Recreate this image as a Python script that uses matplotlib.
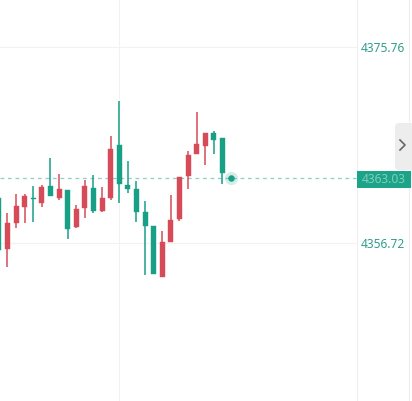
import numpy as np
import matplotlib
matplotlib.use('Agg')
import matplotlib.pyplot as plt
from matplotlib.patches import Rectangle, FancyBboxPatch

# OHLC
opens  = [4361.09, 4356.14, 4358.66, 4360.22, 4361.14, 4360.61, 4362.26, 4361.09, 4361.87,
          4358.27, 4360.12, 4362.06, 4359.83, 4361.09, 4366.24, 4362.35, 4361.97, 4359.73,
          4358.37, 4353.42, 4356.82, 4359.05, 4363.23, 4365.37, 4366.14, 4367.41, 4366.92]
highs  = [4361.29, 4359.63, 4361.48, 4361.48, 4362.26, 4362.35, 4364.98, 4363.42, 4361.87,
          4360.41, 4362.84, 4363.33, 4362.16, 4367.11, 4370.51, 4364.69, 4362.74, 4360.80,
          4358.37, 4357.89, 4361.38, 4363.13, 4365.66, 4369.45, 4367.41, 4367.60, 4366.92]
lows   = [4355.94, 4354.39, 4358.18, 4358.66, 4358.76, 4360.22, 4361.29, 4360.90, 4357.11,
          4358.18, 4359.15, 4359.63, 4359.73, 4360.90, 4360.61, 4361.58, 4358.76, 4353.61,
          4353.71, 4353.42, 4356.82, 4358.86, 4361.97, 4365.37, 4364.30, 4365.37, 4362.45]
closes = [4356.04, 4358.66, 4360.31, 4361.29, 4361.04, 4362.16, 4361.29, 4361.97, 4358.08,
          4360.02, 4362.26, 4359.83, 4361.09, 4365.85, 4362.45, 4361.97, 4359.73, 4358.37,
          4353.71, 4356.82, 4358.95, 4363.13, 4365.27, 4366.34, 4367.41, 4366.73, 4363.52]
last_price = 4363.03
tick_vals = [4356.72, 4375.76]
tick_labels = ['4356.72', '4375.76']

up_col = '#d64b57'
down_col = '#17a086'
lbl_col = '#2f9e8c'

W, H = 412, 401
fig = plt.figure(figsize=(W / 100, H / 100), dpi=100)
fig.patch.set_facecolor('white')
ax = fig.add_axes([0, 0, 357 / W, 1])

n = len(opens)
idx = np.arange(n)
for i in idx:
    o, h, l, c = opens[i], highs[i], lows[i], closes[i]
    col = up_col if c > o else down_col
    ax.vlines(i, l, h, color=col, lw=1.1, zorder=3)
    ax.bar(i, max(abs(c - o), 0.1), bottom=min(o, c), width=0.58, color=col,
           edgecolor=col, lw=0.3, zorder=4)

# current price
ax.axhline(last_price, color='#8ccfc4', lw=0.9, ls=(0, (3, 3)), zorder=1)
ax.scatter([n], [last_price], s=90, color=down_col, alpha=0.18, lw=0, zorder=5)
ax.scatter([n], [last_price], s=22, color=down_col, lw=0, zorder=6)

ax.set_xlim(0.128, 41.64)
ax.set_ylim(4341.37, 4380.33)
ax.set_xticks([14])
ax.xaxis.set_ticklabels([])
ax.tick_params(axis='x', length=0)
ax.yaxis.tick_right()
ax.set_yticks(tick_vals)
ax.set_yticklabels(tick_labels, color=lbl_col, fontsize=8.6, family='Noto Sans')
ax.tick_params(axis='y', length=0, pad=3)
ax.grid(True, color='#f2f2f2', lw=0.8, zorder=0)
for s in ['top', 'left', 'bottom']:
    ax.spines[s].set_visible(False)
ax.spines['right'].set_color('#eeeeee')
ax.spines['right'].set_linewidth(0.8)

fig.add_artist(plt.Line2D([408.5 / W, 408.5 / W], [0, 1], color='#eeeeee', lw=0.8,
                          transform=fig.transFigure, zorder=1))

# side button
btn = FancyBboxPatch((395 / W, 1 - 170 / H), 20 / W, 47 / H,
                     boxstyle='round,pad=0,rounding_size=0.01',
                     transform=fig.transFigure, facecolor='#ededed',
                     edgecolor='none', zorder=2)
fig.add_artist(btn)
fig.add_artist(plt.Line2D([400 / W, 405 / W, 400 / W], [1 - 140 / H, 1 - 145 / H, 1 - 150 / H],
                          color='#666666', lw=1.2, transform=fig.transFigure, zorder=3))

# price tag on the axis
tag = Rectangle((357 / W, 1 - 188 / H), 54 / W, 17 / H, transform=fig.transFigure,
                facecolor='#1ba487', edgecolor='none', zorder=4)
fig.add_artist(tag)
fig.text(384 / W, 1 - 179.5 / H, '%.2f' % last_price, color='#ffffff', fontsize=8.6,
         family='Noto Sans', ha='center', va='center', alpha=0.45, zorder=5)

fig.savefig('out.png', dpi=100)
